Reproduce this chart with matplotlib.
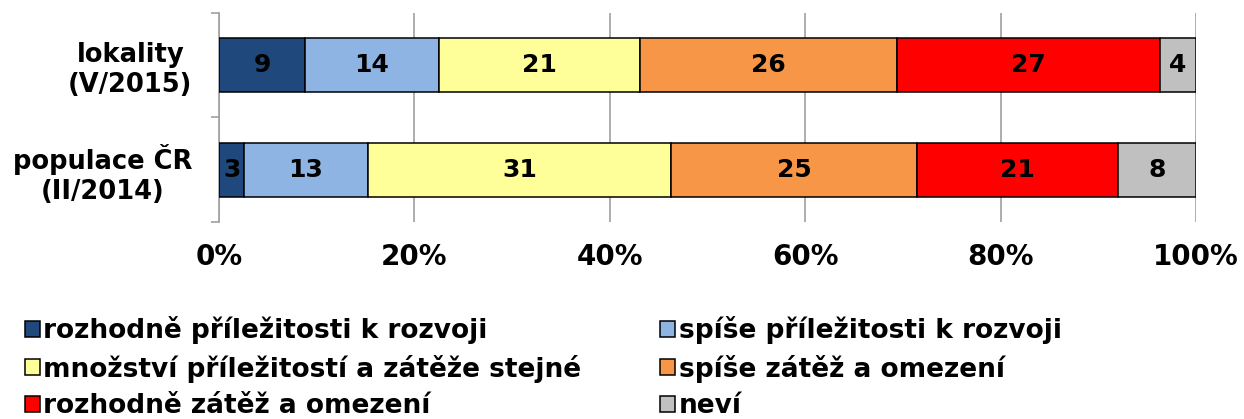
import matplotlib
matplotlib.use('Agg')
import matplotlib.pyplot as plt
import numpy as np

# data (percent shares)
categories = ['lokality\n(V/2015)', 'populace ČR\n(II/2014)']
series_names = [
    'rozhodně příležitosti k rozvoji',
    'spíše příležitosti k rozvoji',
    'množství příležitostí a zátěže stejné',
    'spíše zátěž a omezení',
    'rozhodně zátěž a omezení',
    'neví',
]
lokality = [8.8, 13.7, 20.6, 26.3, 26.9, 3.7]
populace = [2.6, 12.6, 31.1, 25.1, 20.6, 8.0]
colors = ['#1F497D', '#8DB4E2', '#FFFF99', '#F79646', '#FF0000', '#C0C0C0']
x_ticks = [0, 20, 40, 60, 80, 100]

plt.rcParams['font.family'] = ['DejaVu Sans']
plt.rcParams['font.weight'] = 'bold'

values = np.array([lokality, populace])
# top row in the picture is lokality
ypos = np.array([1, 0])

fig = plt.figure(figsize=(12.44, 4.19), dpi=100)
ax = fig.add_axes([219 / 1244, 1 - 222 / 419, (1196 - 219) / 1244, (222 - 13) / 419])

left = np.zeros(len(categories))
handles = []
for i, name in enumerate(series_names):
    bars = ax.barh(ypos, values[:, i], left=left, height=0.52, color=colors[i],
                   edgecolor='black', linewidth=1.1, label=name, zorder=3)
    handles.append(bars)
    for y, v, l in zip(ypos, values[:, i], left):
        ax.text(l + v / 2, y, '%d' % round(v), ha='center', va='center',
                fontsize=18, fontweight='bold', color='black', zorder=4)
    left += values[:, i]

ax.set_xlim(0, 100)
ax.set_ylim(-0.5, 1.5)
ax.set_xticks(x_ticks)
ax.set_xticklabels(['%d%%' % t for t in x_ticks], fontsize=20, fontweight='bold')
ax.tick_params(axis='x', length=0, pad=15)

ax.set_yticks(ypos)
ax.set_yticklabels(categories, fontsize=18.5, fontweight='bold', multialignment='center')
ax.set_yticks([-0.5, 0.5, 1.5], minor=True)
ax.tick_params(axis='y', which='major', length=0, pad=19)
ax.tick_params(axis='y', which='minor', length=6, width=1.2, color='#A0A0A0', direction='out')

ax.grid(axis='x', color='#A0A0A0', linewidth=1.2, zorder=0)
for s in ['top', 'right', 'bottom']:
    ax.spines[s].set_visible(False)
ax.spines['left'].set_color('#A0A0A0')
ax.spines['left'].set_linewidth(1.2)

# legend fills column-wise, reorder so rows read like the reference
order = [0, 2, 4, 1, 3, 5]
leg = fig.legend([handles[k] for k in order], [series_names[k] for k in order],
                 loc='upper left', bbox_to_anchor=(0.02, 1 - 316 / 419), ncol=2,
                 frameon=False, prop={'weight': 'bold', 'size': 19},
                 handlelength=0.57, handleheight=0.57, handletextpad=0.12,
                 columnspacing=3.0, labelspacing=0.4, borderpad=0, borderaxespad=0)

fig.savefig('out.png', dpi=100)
